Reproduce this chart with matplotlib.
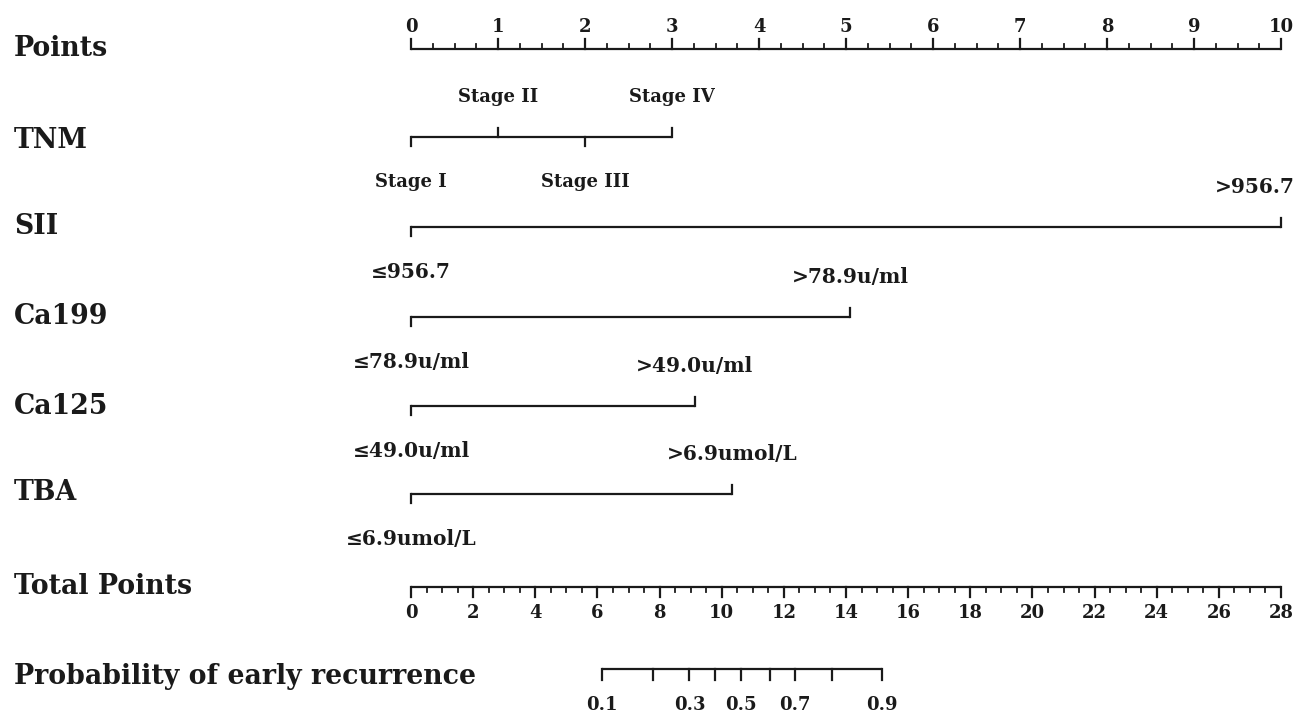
import matplotlib
matplotlib.use("Agg")
import matplotlib.pyplot as plt
import numpy as np

# ---------------- data ----------------
row_titles = ["Points", "TNM", "SII", "Ca199", "Ca125", "TBA", "Total Points",
              "Probability of early recurrence"]

points_ticks = list(range(0, 11))

tnm_levels = ["Stage I", "Stage II", "Stage III", "Stage IV"]
tnm_points = [0, 1, 2, 3]

sii_levels = ["\u2264956.7", ">956.7"]
sii_points = [0, 10]

ca199_levels = ["\u226478.9u/ml", ">78.9u/ml"]
ca199_points = [0, 5.05]

ca125_levels = ["\u226449.0u/ml", ">49.0u/ml"]
ca125_points = [0, 3.26]

tba_levels = ["\u22646.9umol/L", ">6.9umol/L"]
tba_points = [0, 3.69]

total_ticks = list(range(0, 29, 2))
total_max = 28

prob_values = [0.1, 0.2, 0.3, 0.4, 0.5, 0.6, 0.7, 0.8, 0.9]
prob_total_pos = [6.14, 7.80, 8.96, 9.78, 10.61, 11.55, 12.36, 13.54, 15.16]
prob_labeled = [0.1, 0.3, 0.5, 0.7, 0.9]

# ---------------- figure ----------------
W, H = 1305, 715
DPI = 100
fig = plt.figure(figsize=(W / DPI, H / DPI), dpi=DPI)
ax = fig.add_axes([0, 0, 1, 1])
ax.set_axis_off()

x0_px, x10_px = 411, 1281
ppu = (x10_px - x0_px) / 10.0
ax.set_xlim(-x0_px / ppu, (W - x0_px) / ppu)
ax.set_ylim(H, 0)

FONT = ["DejaVu Serif"]
LW = 1.6
col = "#1a1a1a"

def px(p):  # pixel offset expressed in x data units
    return p / ppu

title_y = [49, 141, 227, 316, 406, 493, 586, 676]
for t, y in zip(row_titles, title_y):
    ax.text(-x0_px / ppu + px(14), y, t, fontsize=19.3, fontweight="bold",
            family=FONT, ha="left", va="center", color=col)

# ---- Points axis ----
py = 49
ax.plot([0, 10], [py, py], color=col, lw=LW, solid_capstyle="butt")
for m in np.arange(0, 10.001, 0.25):
    major = abs(m - round(m)) < 1e-9
    ax.plot([m, m], [py, py - (10 if major else 5)], color=col, lw=LW if major else 1.3)
for t in points_ticks:
    ax.text(t, 27, str(t), fontsize=13, fontweight="bold", family=FONT,
            ha="center", va="center", color=col)

# ---- factor rows ----
def factor_row(levels, pts, y):
    ax.plot([min(pts), max(pts)], [y, y], color=col, lw=LW, solid_capstyle="butt")
    for i, p in enumerate(pts):
        up = (i % 2 == 1)
        ax.plot([p, p], [y, y + (-9 if up else 9)], color=col, lw=LW)

def factor_labels(levels, pts, y, size):
    for i, (lab, p) in enumerate(zip(levels, pts)):
        up = (i % 2 == 1)
        xx, ha = p, "center"
        if p >= 10:
            xx, ha = p + px(14), "right"
        ax.text(xx, y + (-40 if up else 45), lab, fontsize=size, fontweight="bold",
                family=FONT, ha=ha, va="center", color=col)

factor_row(tnm_levels, tnm_points, 137)
factor_labels(tnm_levels, tnm_points, 137, 13)
for lev, pts, y in [(sii_levels, sii_points, 227), (ca199_levels, ca199_points, 317),
                    (ca125_levels, ca125_points, 406), (tba_levels, tba_points, 494)]:
    factor_row(lev, pts, y)
    factor_labels(lev, pts, y, 14.5)

# ---- Total points axis ----
ty = 587
scale = 10.0 / total_max
ax.plot([0, 10], [ty, ty], color=col, lw=LW, solid_capstyle="butt")
for m in np.arange(0, total_max + 0.001, 0.5):
    major = abs(m / 2 - round(m / 2)) < 1e-9
    ax.plot([m * scale, m * scale], [ty, ty + (10 if major else 5)], color=col,
            lw=LW if major else 1.3)
for t in total_ticks:
    ax.text(t * scale, 613, str(t), fontsize=13, fontweight="bold", family=FONT,
            ha="center", va="center", color=col)

# ---- Probability axis ----
pry = 669
ax.plot([prob_total_pos[0] * scale, prob_total_pos[-1] * scale], [pry, pry],
        color=col, lw=LW, solid_capstyle="butt")
for v, p in zip(prob_values, prob_total_pos):
    ax.plot([p * scale, p * scale], [pry, pry + 11], color=col, lw=LW)
    if v in prob_labeled:
        ax.text(p * scale, 705, f"{v:.1f}", fontsize=13, fontweight="bold",
                family=FONT, ha="center", va="center", color=col)

fig.savefig("out.png", dpi=DPI, facecolor="white")
